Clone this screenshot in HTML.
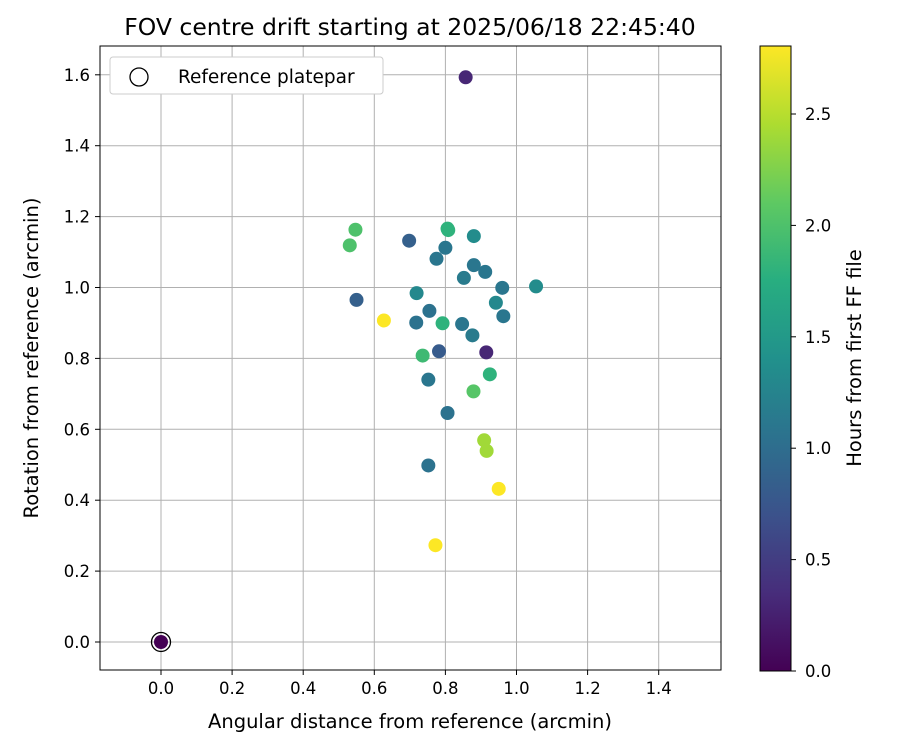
<!DOCTYPE html>
<html><head><meta charset="utf-8"><style>
body{margin:0;background:#fff}
svg text{font-family:"DejaVu Sans","Liberation Sans",sans-serif}
</style></head><body>
<svg id="chart" width="900" height="750" xmlns="http://www.w3.org/2000/svg">
<rect width="900" height="750" fill="#fff"/>
<defs><linearGradient id="vir" x1="0" y1="1" x2="0" y2="0">
<stop offset="0" stop-color="#440154"/><stop offset="0.125" stop-color="#472d7b"/><stop offset="0.25" stop-color="#3b528b"/><stop offset="0.375" stop-color="#2c728e"/><stop offset="0.5" stop-color="#21918c"/><stop offset="0.625" stop-color="#28ae80"/><stop offset="0.75" stop-color="#5ec962"/><stop offset="0.875" stop-color="#addc30"/><stop offset="1" stop-color="#fde725"/></linearGradient></defs>
<text x="410" y="35" text-anchor="middle" style="font-size:23.5px">FOV centre drift starting at 2025/06/18 22:45:40</text>
<g id="grid"></g>
<g id="pts"></g>
<rect x="100" y="46" width="621" height="624" fill="none" stroke="#000" stroke-width="1"/>
<g id="ticks" style="font-size:16.5px"></g>
<text x="410" y="728" text-anchor="middle" style="font-size:19.5px">Angular distance from reference (arcmin)</text>
<text transform="translate(38,358) rotate(-90)" text-anchor="middle" style="font-size:19.5px">Rotation from reference (arcmin)</text>
<g>
<rect x="110" y="57" width="273" height="37" rx="3" fill="#fff" stroke="#ccc"/>
<circle cx="139" cy="77" r="9" fill="none" stroke="#000" stroke-width="1.3"/>
<text x="178" y="83" style="font-size:18.5px">Reference platepar</text>
</g>
<rect x="760" y="46" width="31" height="625" fill="url(#vir)" stroke="#000"/>
<g id="cbticks" style="font-size:16.5px"></g>
<text transform="translate(861,358) rotate(-90)" text-anchor="middle" style="font-size:19.5px">Hours from first FF file</text>
</svg>
<script>
const xs=[0.857,0.547,0.531,0.806,0.808,0.698,0.880,0.800,0.775,0.880,0.912,0.852,0.960,1.055,0.719,0.942,0.550,0.963,0.755,0.627,0.718,0.792,0.847,0.876,0.782,0.736,0.915,0.925,0.752,0.879,0.806,0.909,0.916,0.752,0.950,0.772,0];
const ys=[1.593,1.163,1.119,1.166,1.162,1.132,1.145,1.112,1.081,1.063,1.044,1.027,0.999,1.003,0.984,0.957,0.965,0.919,0.934,0.907,0.901,0.899,0.897,0.865,0.820,0.808,0.817,0.755,0.740,0.707,0.646,0.569,0.539,0.498,0.432,0.273,0];
const hours=[0.3,2.0,2.0,1.8,1.8,0.85,1.35,1.1,1.1,1.1,1.1,1.15,1.1,1.35,1.3,1.3,0.85,1.1,1.05,2.8,1.05,1.8,1.1,1.15,0.8,1.9,0.3,1.8,1.1,2.05,1.05,2.4,2.4,1.05,2.8,2.8,0];
const xTicks=[0.0,0.2,0.4,0.6,0.8,1.0,1.2,1.4];
const yTicks=[0.0,0.2,0.4,0.6,0.8,1.0,1.2,1.4,1.6];
const cTicks=[0.0,0.5,1.0,1.5,2.0,2.5];
const X=v=>161+v*355.5, Y=v=>642-v*354.5, C=v=>671-v*222.8, CMAX=2.805;
const vir=["#440154","#472d7b","#3b528b","#2c728e","#21918c","#28ae80","#5ec962","#addc30","#fde725"];
function col(h){let t=Math.max(0,Math.min(1,h/CMAX))*8,i=Math.min(7,Math.floor(t)),f=t-i;
const a=vir[i],b=vir[i+1];let r=[1,3,5].map(k=>Math.round(parseInt(a.substr(k,2),16)*(1-f)+parseInt(b.substr(k,2),16)*f));return`rgb(${r})`;}
const NS="http://www.w3.org/2000/svg";
function mk(p,t,at){const e=document.createElementNS(NS,t);for(const k in at)e.setAttribute(k,at[k]);document.getElementById(p).appendChild(e);return e;}
xTicks.forEach(v=>{let l=mk('grid','line',{x1:X(v),x2:X(v),y1:46,y2:670,stroke:'#b0b0b0','stroke-width':1});

mk('ticks','line',{x1:X(v),x2:X(v),y1:670,y2:675,stroke:'#000'});
let t=mk('ticks','text',{x:X(v),y:694,'text-anchor':'middle'});t.textContent=v.toFixed(1);
});
yTicks.forEach(v=>{let l=mk('grid','line',{x1:100,x2:721,y1:Y(v),y2:Y(v),stroke:'#b0b0b0','stroke-width':1});

mk('ticks','line',{x1:95,x2:100,y1:Y(v),y2:Y(v),stroke:'#000'});
let t=mk('ticks','text',{x:90,y:Y(v)+6,'text-anchor':'end'});t.textContent=v.toFixed(1);
});
cTicks.forEach(v=>{mk('cbticks','line',{x1:791,x2:796,y1:C(v),y2:C(v),stroke:'#000'});
let t=mk('cbticks','text',{x:805,y:C(v)+6});t.textContent=v.toFixed(1);
});
xs.forEach((x,i)=>{let c=mk('pts','circle',{cx:X(x),cy:Y(ys[i]),r:7,fill:col(hours[i])});
});
let r=mk('pts','circle',{cx:X(0),cy:Y(0),r:9.5,fill:'none',stroke:'#000','stroke-width':1.3});

</script>
</body></html>
